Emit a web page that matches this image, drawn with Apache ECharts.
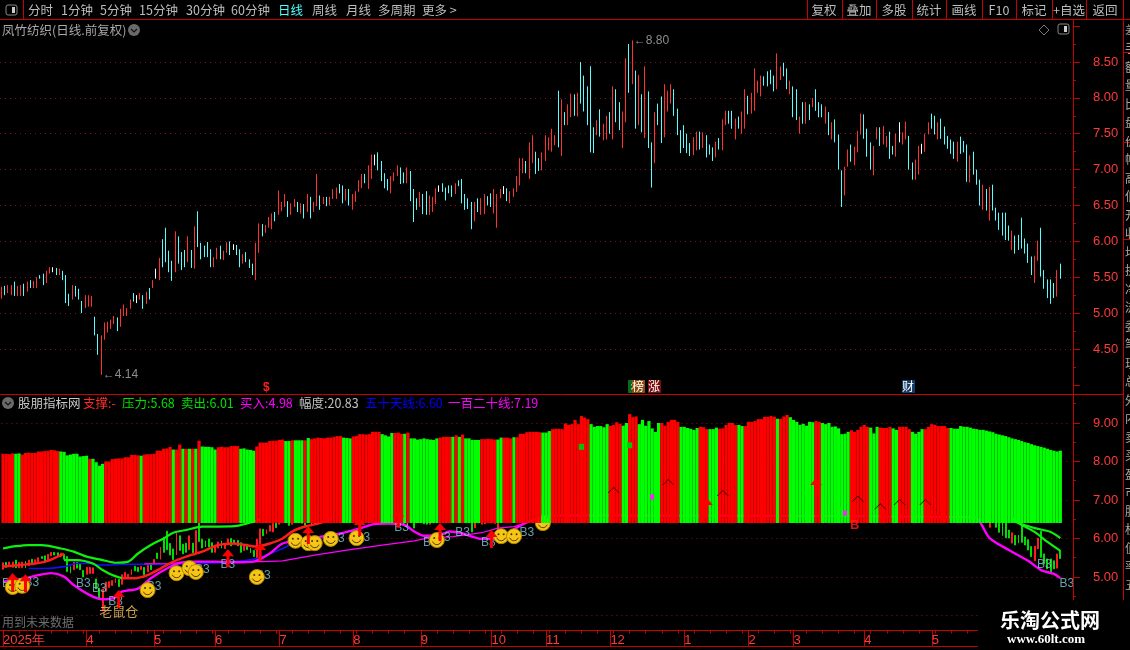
<!DOCTYPE html>
<html><head><meta charset="utf-8">
<style>html,body{margin:0;padding:0;background:#000}#c{width:1130px;height:650px}</style>
<script src="https://cdn.jsdelivr.net/npm/echarts@6/dist/echarts.min.js"></script>
</head><body><div id="c"></div>
<script>
const highs=[5.37,5.38,5.39,5.39,5.44,5.38,5.39,5.41,5.44,5.46,5.45,5.50,5.53,5.55,5.59,5.64,5.64,5.63,5.62,5.59,5.53,5.27,5.39,5.38,5.34,5.17,5.25,5.25,5.24,4.95,4.71,4.69,4.87,4.88,4.91,4.96,4.94,5.06,5.12,5.07,5.19,5.28,5.25,5.28,5.25,5.30,5.35,5.46,5.62,5.77,6.03,6.19,5.87,5.73,6.14,6.07,5.85,5.88,6.07,5.88,6.21,6.42,5.98,5.94,5.99,5.89,5.78,5.91,5.94,5.87,5.99,6.00,5.96,5.95,5.89,5.82,5.85,5.75,5.69,5.98,6.25,6.24,6.23,6.34,6.39,6.41,6.71,
6.55,6.66,6.56,6.53,6.59,6.55,6.53,6.52,6.66,6.62,6.55,6.94,6.64,6.62,6.62,6.62,6.73,6.75,6.80,6.78,6.73,6.73,6.66,6.70,6.85,6.94,6.94,7.06,7.21,7.21,7.24,7.12,6.95,6.87,6.91,6.96,7.06,7.03,6.96,7.03,6.98,6.73,6.60,6.69,6.66,6.70,6.64,6.62,6.74,6.78,6.81,6.75,6.78,6.78,6.81,6.85,6.87,6.66,6.60,6.55,6.55,6.60,6.60,6.66,6.63,6.67,6.73,6.66,6.73,6.77,6.74,6.70,6.74,6.91,7.16,7.16,7.12,7.38,7.48,7.25,7.16,7.24,7.48,7.45,7.57,7.48,8.10,
7.98,7.80,7.91,8.06,8.05,8.07,8.50,8.31,8.16,8.44,7.59,7.69,7.84,7.64,7.75,7.80,8.16,8.12,7.94,7.81,8.55,8.75,8.80,8.38,8.32,8.05,8.44,8.09,7.38,7.80,7.92,8.02,8.19,8.10,8.19,8.12,7.85,7.55,7.62,7.50,7.37,7.45,7.53,7.53,7.52,7.48,7.35,7.31,7.39,7.44,7.70,7.82,7.82,7.82,7.71,7.74,7.81,8.12,8.03,8.07,8.41,8.24,8.31,8.30,8.37,8.39,8.31,8.62,8.44,8.49,8.41,8.24,8.16,8.12,7.74,7.94,7.94,7.91,8.00,8.12,7.94,7.91,7.88,7.80,7.66,7.70,7.49,
6.99,7.04,7.28,7.35,7.32,7.54,7.78,7.77,7.57,7.38,7.33,7.59,7.59,7.61,7.47,7.53,7.33,7.50,7.66,7.52,7.67,7.47,7.10,7.14,7.33,7.36,7.50,7.66,7.78,7.75,7.66,7.71,7.60,7.47,7.42,7.39,7.39,7.46,7.40,7.35,7.20,7.25,7.00,6.86,6.79,6.73,6.76,6.79,6.47,6.40,6.40,6.40,6.22,6.15,6.08,6.09,6.33,6.04,5.97,5.79,5.80,6.01,6.19,5.60,5.47,5.47,5.42,5.60,5.69];
const lows=[5.20,5.25,5.28,5.25,5.24,5.24,5.24,5.24,5.30,5.35,5.35,5.35,5.48,5.39,5.42,5.55,5.57,5.53,5.53,5.46,5.14,5.10,5.19,5.23,5.19,5.00,5.07,5.09,5.09,4.69,4.42,4.14,4.63,4.73,4.78,4.85,4.75,4.81,4.96,4.96,5.06,5.16,5.14,5.19,5.06,5.13,5.19,5.35,5.48,5.46,5.64,5.71,5.57,5.45,5.57,5.69,5.60,5.64,5.71,5.63,5.62,5.92,5.75,5.78,5.78,5.64,5.64,5.75,5.75,5.74,5.84,5.81,5.88,5.81,5.64,5.69,5.71,5.63,5.53,5.46,5.84,6.07,6.12,6.19,6.17,6.28,6.37,
6.42,6.48,6.34,6.37,6.48,6.41,6.39,6.32,6.41,6.32,6.41,6.49,6.44,6.52,6.49,6.50,6.59,6.59,6.67,6.53,6.57,6.50,6.44,6.55,6.69,6.74,6.81,6.73,6.87,7.06,6.99,6.84,6.74,6.71,6.67,6.84,6.91,6.80,6.81,6.81,6.56,6.27,6.44,6.48,6.38,6.37,6.37,6.41,6.52,6.69,6.69,6.57,6.67,6.62,6.66,6.77,6.53,6.44,6.45,6.17,6.28,6.41,6.37,6.38,6.50,6.48,6.39,6.19,6.60,6.66,6.56,6.53,6.62,6.69,6.78,6.95,6.95,6.87,7.09,6.94,6.98,6.99,7.12,7.27,7.25,7.34,7.31,
7.19,7.62,7.62,7.73,7.75,7.74,7.92,7.81,7.62,7.24,7.23,7.48,7.46,7.41,7.42,7.50,7.42,7.66,7.55,7.30,7.66,8.07,8.19,7.57,7.62,7.52,7.44,7.30,6.75,7.09,7.62,7.37,7.45,7.81,7.92,7.75,7.48,7.23,7.30,7.23,7.19,7.20,7.27,7.28,7.30,7.17,7.21,7.12,7.17,7.28,7.27,7.62,7.64,7.57,7.42,7.57,7.50,7.57,7.77,7.78,7.82,8.07,8.02,8.17,8.16,8.19,8.09,8.12,8.25,8.30,8.12,8.05,7.73,7.69,7.50,7.64,7.64,7.69,7.87,7.82,7.73,7.73,7.64,7.48,7.42,7.38,7.00,
6.48,6.64,7.04,7.11,7.06,7.24,7.49,7.43,7.18,7.00,6.92,7.42,7.33,7.35,7.31,7.15,7.21,7.18,7.38,7.35,7.42,7.00,6.86,6.86,6.93,7.22,7.25,7.49,7.57,7.49,7.42,7.43,7.35,7.29,7.22,7.15,7.11,7.22,7.24,6.83,6.82,6.93,6.79,6.50,6.44,6.43,6.29,6.43,6.29,6.16,6.08,6.02,6.01,5.88,5.83,5.88,5.90,5.83,5.70,5.53,5.42,5.73,5.51,5.34,5.21,5.13,5.21,5.23,5.48];
const candleKinds="rcrrcrrcrcrrccrrwcrcccrcccrrrccrrrrrcrrrrcwrcrcrwrccccrcccrcrcccccrrcrrcwccrcccrrcrrrcr"+
"rrcrrcrcrcrrcrcrrrccrcrrrrcrrwccccrrrccrcccrccrrrwccccrcccccrcrrccrrrwcrrrrrcrrccrrrrrc"+
"rcrrcrcccccrcrrcrccrrcrcrcrccrccrrrccccccrrcrcccrcrrccrcrrcrrrrccccrrccrccrcrcrcccrcrcc"+
"crrcrrrcccrrcrrccrwrrccrrwrrccrcccccrcccrcccrcrccccccrccccccrrcccccrc";

const barTops=[8.20,8.20,8.19,8.21,8.20,8.21,8.18,8.22,8.23,8.22,8.22,8.26,8.26,8.27,8.28,8.30,8.29,8.27,8.26,8.25,8.16,8.18,8.20,8.20,8.13,8.14,8.15,8.07,8.07,7.98,7.89,7.94,8.00,8.00,8.06,8.07,8.08,8.08,8.11,8.11,8.17,8.17,8.16,8.15,8.18,8.19,8.19,8.20,8.28,8.28,8.33,8.34,8.38,8.31,8.31,8.44,8.33,8.33,8.33,8.33,8.33,8.54,8.39,8.38,8.38,8.37,8.31,8.37,8.38,8.37,8.37,8.40,8.40,8.40,8.33,8.34,8.31,8.30,8.28,8.39,8.49,8.49,8.49,8.53,8.54,8.54,8.56,8.57,8.53,8.53,8.55,8.55,8.55,8.55,8.55,8.61,8.58,8.60,8.62,8.61,8.60,8.62,8.62,8.64,8.66,8.66,8.62,8.61,8.60,8.65,8.66,8.71,8.71,8.70,8.71,8.77,8.77,8.77,8.71,8.68,8.65,8.74,8.74,8.75,8.72,8.72,8.75,8.60,8.60,8.57,8.58,8.60,8.58,8.57,8.56,8.60,8.62,8.64,8.64,8.64,8.64,8.68,8.64,8.70,8.60,8.60,8.56,8.56,8.56,8.58,8.58,8.59,8.58,8.57,8.57,8.62,8.62,8.62,8.60,8.63,8.63,8.72,8.72,8.76,8.77,8.77,8.77,8.76,8.75,8.75,8.79,8.84,8.85,8.85,
8.84,8.99,8.95,8.97,9.08,8.97,9.18,9.14,9.10,8.97,8.90,8.92,8.92,8.89,8.97,8.93,8.95,9.02,8.98,8.93,9.00,9.23,9.15,9.17,8.97,9.08,8.93,9.05,8.86,8.77,9.00,9.00,8.93,9.03,9.08,9.08,9.03,8.90,8.90,8.87,8.85,8.82,8.87,8.90,8.89,8.84,8.84,8.84,8.88,8.85,8.86,8.95,9.00,9.00,8.95,8.95,8.92,8.92,9.03,9.03,9.05,9.10,9.10,9.16,9.16,9.18,9.16,9.11,9.11,9.17,9.21,9.15,9.08,9.03,8.95,8.98,8.93,9.03,9.02,9.05,9.03,9.00,8.97,9.00,8.90,8.91,8.86,8.71,8.72,8.77,8.81,8.77,8.82,8.90,8.95,8.90,8.88,8.73,8.90,8.88,8.87,8.87,8.90,8.86,8.82,8.90,8.90,8.90,8.84,8.77,8.72,8.77,8.84,8.84,8.90,8.97,8.95,8.92,8.92,8.92,8.87,8.87,8.85,8.85,8.92,8.90,8.90,8.88,8.85,8.84,8.82,8.82,8.80,8.78,8.76,8.72,8.70,8.68,8.66,8.63,8.60,8.58,8.56,8.53,8.50,8.48,8.45,8.42,8.40,8.38,8.36,8.33,8.30,8.28,8.26,8.28];
const barKinds="rrrrggrrrrrrrrrrrrgggggggggrggggrrrrrrrrrrrgrrrrrrrrrgrrgrgrgrgggggrrrrrrrgggggrrrrrrrrrggrgggrgrrrrrrrrrrgggrrrrrrrrrggggrrrgrgggggggggrrrrgrgrgggggrrrrrggrrrgrrrrrrrrgggrrrr"+
"rrrrrrrrggggggrrrrggrrrgggggggrrrrrrggggggrrrgggrrrrrrggrrrrrrrrrrgrrrggggggggrrgggggggggrrrrrrgggrrrrggrrrrggggrrrrrrrrgggggggggggggggggggggggggggggggggggggggggrr";

const baseLevel=6.403;
const slotCount=333;
const monthSlots=[0,26,47,66,86,109,130,152,169,189,212,232,246,268,289];
const monthLabels=["2025年","4","5","6","7","8","9","10","11","12","1","2","3","4","5"];

const buyLine=[[0,4.88],[7,4.97],[11,5.05],[15,5.10],[19,5.01],[22,4.79],[27,4.53],[31,4.42],[35,4.47],[37,4.62],[42,4.70],[46,4.97],[51,5.22],[55,5.37],[60,5.40],[66,5.40],[72,5.38],[78,5.40],[83,5.61],[87,5.87],[93,5.96],[99,6.05],[105,6.13],[111,6.26],[116,6.38],[120,6.39],[125,6.35],[128,6.18],[131,6.07],[136,6.09],[139,6.18],[143,6.13],[149,5.99],[153,6.00],[157,6.13],[162,6.38],[170,6.6],[302,6.55],[307,6.01],[313,5.70],[319,5.42],[323,5.18],[327,5.08],[329,4.97]];
const pressureLine=[[0,5.74],[4,5.80],[8,5.83],[12,5.83],[18,5.74],[22,5.66],[26,5.53],[31,5.44],[35,5.37],[39,5.40],[42,5.61],[46,5.83],[50,6.00],[53,6.15],[57,6.22],[62,6.31],[67,6.31],[72,6.32],[76,6.39],[80,6.5],[81,null],[314,6.5],[316,6.40],[321,6.27],[326,6.17],[329,6.01]];
const sellLineA=[[19,5.44],[23,5.44],[28,5.35],[31,5.18],[34,5.05],[37,4.97]];
const sellLineB=[[314,6.55],[316,6.40],[321,6.17],[325,5.91],[329,5.68]];
const supportLineA=[[0,5.27],[5,5.31],[10,5.35],[14,5.42],[17,5.53],[19,5.60]];
const supportLineB=[[37,4.97],[41,4.97],[45,5.05],[49,5.22],[53,5.40],[57,5.53],[62,5.66],[67,5.83],[72,5.87],[79,5.79],[83,5.87],[87,6.00],[90,6.18],[94,6.31],[98,6.39],[102,6.5]];
const fiftyLine=[[8,5.22],[13,5.22],[19,5.27],[23,5.35],[27,5.35],[30,5.31],[40,5.33],[50,5.33],[60,5.35],[72,5.40],[79,5.48],[83,5.60],[87,5.74],[92,5.92],[99,6.00],[104,6.12],[111,6.24],[115,6.38],[120,6.45]];
const ma120Line=[[44,5.34],[52,5.35],[60,5.40],[72,5.40],[81,5.40],[87,5.42],[97,5.57],[107,5.70],[118,5.83],[128,5.94],[132,6.01],[140,6.05],[149,6.15],[154,6.27],[159,6.31],[162,6.38],[166,6.5]];

const arrowPoints=[[3,4.87],[7,4.84],[36,4.43],[70,5.49],[80,5.65],[95,6.09],[111,6.30],[123,6.51],[136,6.17],[152,5.99],[219,6.82],[253,7.34]];
const chevronPoints=[[190,7.26],[207,7.47],[224,7.18],[266,7.03],[273,6.84],[279,6.95],[287,6.95]];
const smileyPoints=[[3,4.74],[6,4.77],[45,4.66],[54,5.10],[58,5.23],[60,5.13],[79,5.00],[91,5.94],[95,5.88],[97,5.88],[102,5.99],[110,6.01],[135,5.96],[155,6.06],[159,6.06],[168,6.40]];
const b3Points=[[2,4.82],[9,4.84],[25,4.82],[30,4.69],[35,4.35],[47,4.74],[62,5.18],[70,5.31],[81,5.03],[104,5.99],[112,6.01],[124,6.27],[133,5.88],[137,6.01],[143,6.14],[151,5.88],[163,6.14],[324,5.31],[331,4.82]];
const magentaPoints=[[262,6.66],[202,7.08]];
const greenBlocks=[[180,8.38],[195,8.42]];
const priceNotes=[[31,4.14,"←4.14"],[196,8.80,"←8.80"]];
const menuLeft=[["分时",28],["1分钟",61],["5分钟",100],["15分钟",139],["30分钟",186],["60分钟",231],["日线",278],["周线",312],["月线",346],["多周期",378],["更多 >",422]];
const menuRight=[["复权",824],["叠加",859],["多股",894],["统计",929],["画线",964],["F10",999],["标记",1034],["+自选",1069],["返回",1105]];
const menuSeps=[807,842,876,912,946,982,1016,1052,1086,1123];
const legendItems=[["股朋指标网",18,"#c8c8c8"],["支撑:-",83,"#ff2a2a"],["压力:5.68",122,"#00e000"],["卖出:6.01",181,"#00e000"],["买入:4.98",240,"#ff00ff"],["幅度:20.83",299,"#c0c0c0"],["五十天线:6.60",365,"#0000ff"],["一百二十线:7.19",448,"#ff00ff"]];
const sideChars=["差","手","额","量","比","盘","价","幅","高","低","开","收","均","换","净","流","委","笔","现","总","外","内","卖","买","盈","市","股","权","值","率","五"];

const RED="#c80000", GRID="#7c1616", N=highs.length;
const cats=Array.from({length:slotCount},(_,i)=>{const k=monthSlots.indexOf(i);return k>=0?monthLabels[k]:"";});
const upColor={r:"#ff3030",c:"#55ffff",w:"#ffffff"}, lowColor={r:"#ff1c1c",c:"#00dd00",w:"#00dd00"}, barColor={r:"#ff0000",g:"#00ff00"};
const candle=(pal,bw)=>highs.map((h,i)=>{const col=pal[candleKinds[i]]||pal.r;return {value:[lows[i],h,lows[i],h],itemStyle:{color:col,color0:col,borderColor:col,borderColor0:col,borderWidth:bw}};});

const FONT='"Noto Sans CJK SC","Noto Sans",sans-serif', NUM='"Liberation Sans",sans-serif';
const T=(x,y,text,fill,size,extra)=>({type:"text",z:100,silent:true,style:Object.assign({x,y,text,fill,font:(size||12)+"px "+FONT,textAlign:"left",textVerticalAlign:"middle"},extra||{})});
const L=(x1,y1,x2,y2,c,w)=>({type:"line",z:100,silent:true,shape:{x1,y1,x2,y2},style:{stroke:c||RED,lineWidth:w||1}});
const iconRound=(cx,cy)=>[{type:"circle",z:100,silent:true,shape:{cx,cy,r:6},style:{fill:"#6a6a6a"}},{type:"polyline",z:100,silent:true,shape:{points:[[cx-3,cy-1],[cx,cy+2],[cx+3,cy-1]]},style:{stroke:"#111",lineWidth:1.2,fill:null}}];
const iconBox=(x,y)=>[{type:"rect",z:100,silent:true,shape:{x,y,width:11,height:10,r:2},style:{stroke:"#888",fill:"#000",lineWidth:1}},{type:"rect",z:100,silent:true,shape:{x:x+6,y:y+2,width:3,height:6},style:{fill:"#ccc"}}];

const graphics=[
 L(0,19.5,1130,19.5),L(23.5,0,23.5,19),L(0,394.5,1123,394.5),
 L(1073.5,20,1073.5,600),L(1123.5,20,1123.5,600),
 L(0,630.5,978,630.5),L(0,646.5,978,646.5),
 L(1123,52.5,1130,52.5),L(1123,142.5,1130,142.5),L(1123,239.5,1130,239.5),
 ...menuSeps.map(x=>L(x+.5,0,x+.5,19)),
 ...iconBox(6,5),
 ...menuLeft.map(m=>T(m[1],10,m[0],m[0]==="日线"?"#4fffff":"#bdbdbd",12.5)),
 ...menuRight.map(m=>T(m[1],10,m[0],"#bdbdbd",12.5,{textAlign:"center"})),
 T(2,30,"凤竹纺织(日线.前复权)","#a8a8a8",12.5),...iconRound(134,30),
 {type:"polygon",z:100,silent:true,shape:{points:[[1044,25],[1049,30],[1044,35],[1039,30]]},style:{stroke:"#777",fill:null}},
 ...iconBox(1058,24),
 ...iconRound(8,403),
 ...legendItems.map(m=>T(m[1],403,m[0],m[2],12.5)),
 T(2,622,"用到未来数据","#6f6f6f",12),
 T(263,388,"$","#ff2020",12,{font:"bold 12px "+NUM}),
 {type:"rect",z:100,silent:true,shape:{x:628,y:380,width:4,height:13},style:{fill:"#0b6a1a"}},
 T(628.5,386.5,"↕","#ffffff",9),
 {type:"rect",z:100,silent:true,shape:{x:632,y:380,width:13,height:13},style:{fill:"#8a4a06"}},T(632,386.5,"榜","#ffffff",12),
 {type:"rect",z:100,silent:true,shape:{x:648,y:380,width:13,height:13},style:{fill:"#7a0c0c"}},T(648,386.5,"涨","#ffffff",12),
 {type:"rect",z:100,silent:true,shape:{x:902,y:380,width:13,height:13},style:{fill:"#123a66"}},T(902,386.5,"财","#ffffff",12),
 ...sideChars.map((c,i)=>T(1125,30+i*18.5,c,"#a8a8a8",12)),
 {type:"rect",z:101,silent:true,shape:{x:978,y:600,width:152,height:50},style:{fill:"#000"}},
 {type:"text",z:102,silent:true,style:{x:1050,y:620,text:"乐淘公式网",fill:"#ffffff",font:"bold 20px "+FONT,textAlign:"center",textVerticalAlign:"middle",shadowColor:"#3a6fff",shadowBlur:3}},
 {type:"text",z:102,silent:true,style:{x:1046,y:640,text:"www.60lt.com",fill:"#ffffff",font:"bold 13px 'Liberation Serif',serif",textAlign:"center",textVerticalAlign:"middle",shadowColor:"#3a6fff",shadowBlur:3}}
];

const yAxisBase={type:"value",position:"right",offset:1.4,scale:false,
 axisLine:{show:false},
 axisTick:{show:true,length:7,lineStyle:{color:RED}},
 minorTick:{show:true,splitNumber:2,length:3,lineStyle:{color:RED}},
 splitLine:{show:true,lineStyle:{color:GRID,type:[1,4],width:1}},
 axisLabel:{color:"#ff3a3a",fontFamily:NUM,fontSize:13,margin:20,showMinLabel:true,showMaxLabel:true}};
const xAxisBase={type:"category",data:cats,boundaryGap:true,axisLine:{show:false},axisTick:{show:false},axisLabel:{show:false},splitLine:{show:false}};
const isMonth=(i)=>monthSlots.indexOf(i)>=0;
const labelSeries=(pts,color,font,text,z)=>({type:"scatter",xAxisIndex:1,yAxisIndex:1,z,symbolSize:1,itemStyle:{color:"transparent"},silent:true,data:pts,
 label:{show:true,position:"inside",formatter:text,color,fontFamily:font.family,fontSize:font.size,fontWeight:font.weight||"normal"}});

const option={
 backgroundColor:"#000",animation:false,
 grid:[{left:-0.31,top:26.1,width:3.2188*slotCount,height:358.8,containLabel:false},
       {left:-0.31,top:394.1,width:3.2188*slotCount,height:221.4,containLabel:false}],
 xAxis:[Object.assign({},xAxisBase,{gridIndex:0}),
  Object.assign({},xAxisBase,{gridIndex:1,position:"bottom",offset:15,
    axisTick:{show:true,alignWithLabel:true,length:16,interval:(i)=>isMonth(i),lineStyle:{color:RED}},
    axisLabel:{show:true,interval:(i)=>isMonth(i),align:"left",margin:3,color:"#ff3a3a",fontFamily:NUM,fontSize:13}}),
  Object.assign({},xAxisBase,{gridIndex:1,position:"bottom",offset:15,
    axisTick:{show:true,alignWithLabel:true,length:3,interval:4,lineStyle:{color:RED}}})],
 yAxis:[Object.assign({},yAxisBase,{gridIndex:0,min:4,max:9,interval:0.5,
    splitLine:Object.assign({},yAxisBase.splitLine,{showMinLine:false,showMaxLine:false}),
    axisLabel:Object.assign({},yAxisBase.axisLabel,{formatter:v=>(v>=9||v<=4)?"":v.toFixed(2)})}),
  Object.assign({},yAxisBase,{gridIndex:1,min:4,max:9.75,interval:1,
    splitLine:Object.assign({},yAxisBase.splitLine,{showMaxLine:false}),
    axisLabel:Object.assign({},yAxisBase.axisLabel,{formatter:v=>(v>9.5||v<4.5)?"":v.toFixed(2)})})],
 graphic:graphics,
 series:[
  {name:"凤竹纺织",type:"candlestick",xAxisIndex:0,yAxisIndex:0,barWidth:0.4,data:candle(upColor,1),z:3},
  {type:"scatter",xAxisIndex:0,yAxisIndex:0,symbolSize:1,itemStyle:{color:"transparent"},silent:true,data:priceNotes.map(p=>({value:[p[0],p[1]],name:p[2]})),
    label:{show:true,position:"right",distance:1,formatter:p=>p.name,color:"#b0b0b0",fontFamily:NUM,fontSize:12},z:4},
  {name:"K线",type:"candlestick",xAxisIndex:1,yAxisIndex:1,barWidth:1.4,data:candle(lowColor,1),z:2},
  {name:"五十天线",type:"line",xAxisIndex:1,yAxisIndex:1,data:fiftyLine,showSymbol:false,smooth:.3,lineStyle:{color:"#1010ff",width:1.6},z:3},
  {name:"一百二十线",type:"line",xAxisIndex:1,yAxisIndex:1,data:ma120Line,showSymbol:false,lineStyle:{color:"#ff00ff",width:1.2},z:3},
  {name:"买入",type:"line",xAxisIndex:1,yAxisIndex:1,data:buyLine,showSymbol:false,smooth:.3,lineStyle:{color:"#ff00ff",width:2.4},z:3},
  {name:"压力",type:"line",xAxisIndex:1,yAxisIndex:1,data:pressureLine,showSymbol:false,smooth:.3,lineStyle:{color:"#10f010",width:2.2},z:3},
  {name:"卖出1",type:"line",xAxisIndex:1,yAxisIndex:1,data:sellLineA,showSymbol:false,smooth:.3,lineStyle:{color:"#10f010",width:2.2},z:3},
  {name:"卖出2",type:"line",xAxisIndex:1,yAxisIndex:1,data:sellLineB,showSymbol:false,smooth:.3,lineStyle:{color:"#10f010",width:2.2},z:3},
  {name:"支撑1",type:"line",xAxisIndex:1,yAxisIndex:1,data:supportLineA,showSymbol:false,smooth:.3,lineStyle:{color:"#ff1c1c",width:2.5},z:3},
  {name:"支撑2",type:"line",xAxisIndex:1,yAxisIndex:1,data:supportLineB,showSymbol:false,smooth:.3,lineStyle:{color:"#ff1c1c",width:2.5},z:3},
  labelSeries(b3Points,"#7fc6d4",{family:NUM,size:12},"B3",4),
  {type:"custom",xAxisIndex:1,yAxisIndex:1,z:4.5,silent:true,data:smileyPoints,encode:{x:0,y:1},
    renderItem:(params,api)=>{const p=api.coord([api.value(0),api.value(1)]),cx=p[0],cy=p[1];
      return {type:"group",children:[
        {type:"circle",shape:{cx,cy,r:7.5},style:{fill:"#f6c617",stroke:"#b58a00",lineWidth:1}},
        {type:"circle",shape:{cx:cx-2.6,cy:cy-2,r:1},style:{fill:"#4a3000"}},
        {type:"circle",shape:{cx:cx+2.6,cy:cy-2,r:1},style:{fill:"#4a3000"}},
        {type:"arc",shape:{cx,cy,r:4.6,startAngle:0.35,endAngle:Math.PI-0.35},style:{stroke:"#5a3c00",fill:null,lineWidth:1}}]};}},
  {type:"bar",xAxisIndex:1,yAxisIndex:1,stack:"vol",barWidth:"100%",barGap:"0%",silent:true,z:5,itemStyle:{color:"transparent"},data:barTops.map(()=>baseLevel)},
  {name:"股朋指标",type:"bar",xAxisIndex:1,yAxisIndex:1,stack:"vol",barWidth:"100%",barGap:"0%",silent:true,z:5,
    data:barTops.map((t,i)=>({value:+(t-baseLevel).toFixed(3),itemStyle:{color:barColor[barKinds[i]]||"#ff0000"}}))},
  {type:"scatter",xAxisIndex:1,yAxisIndex:1,z:6,symbol:"path://M6 0L12 7L7.5 7L7.5 18L4.5 18L4.5 7L0 7Z",symbolSize:[12,18],itemStyle:{color:"#ff0000",opacity:1},silent:true,data:arrowPoints},
  {type:"scatter",xAxisIndex:1,yAxisIndex:1,z:6,symbol:"path://M0 6L6 0L12 6L11 6L6 1L1 6Z",symbolSize:[12,6],itemStyle:{color:"#300000",opacity:1},silent:true,data:chevronPoints},
  {type:"scatter",xAxisIndex:1,yAxisIndex:1,z:6,symbol:"rect",symbolSize:[4,5],itemStyle:{color:"#ff20ff",opacity:1},silent:true,data:magentaPoints},
  {type:"scatter",xAxisIndex:1,yAxisIndex:1,z:6,symbol:"rect",symbolSize:[5,6],itemStyle:{color:"#00c800",opacity:1},silent:true,data:greenBlocks},
  labelSeries([[265,6.35]],"#ff2020",{family:NUM,size:13,weight:"bold"},"B",6),
  labelSeries([[36,4.12]],"#ffcc66",{family:FONT,size:13},"老鼠仓",6)
 ]
};
const chart=echarts.init(document.getElementById("c"),null,{renderer:"canvas",width:1130,height:650});
chart.setOption(option);
</script></body></html>
